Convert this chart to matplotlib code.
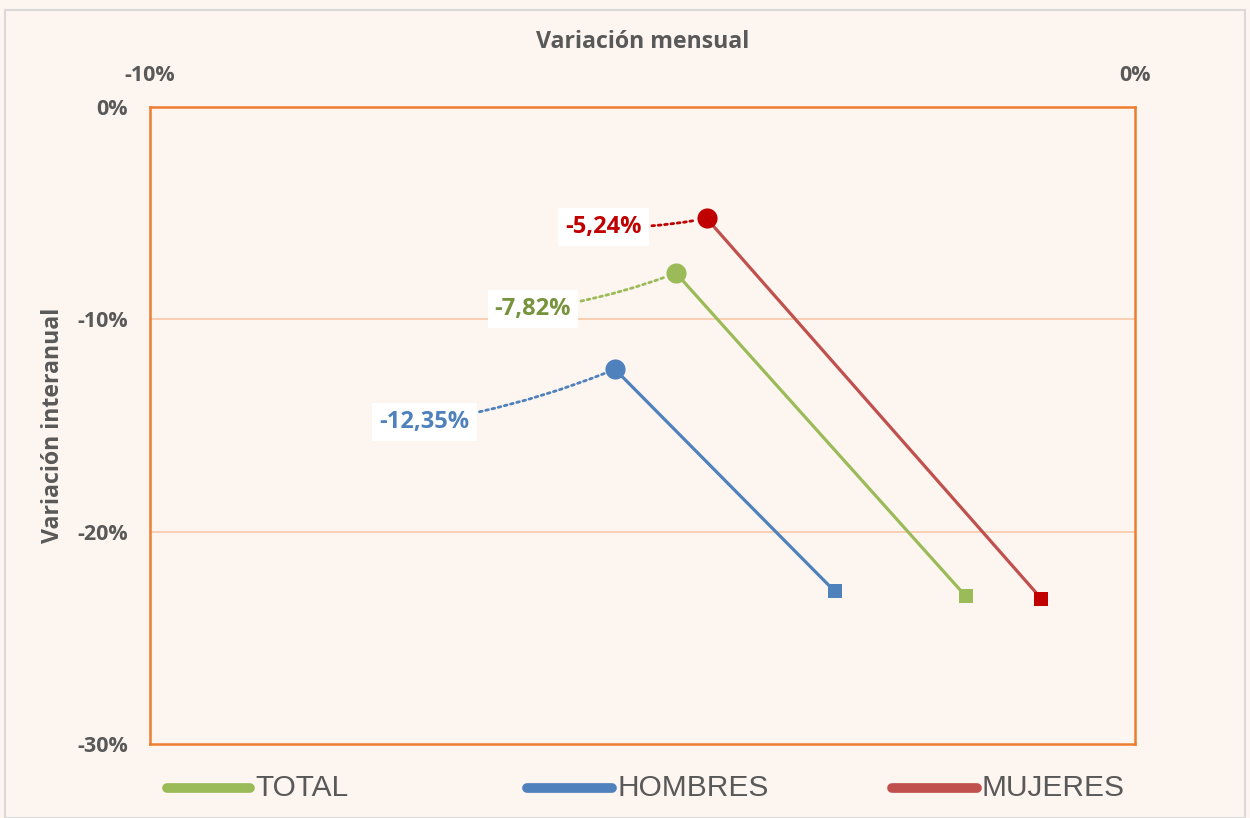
import matplotlib
matplotlib.use("Agg")
import matplotlib.pyplot as plt
from matplotlib.lines import Line2D
from matplotlib.patches import Rectangle

plt.rcParams['font.family'] = ['Open Sans', 'DejaVu Sans']

# ---- data ----
series = ["TOTAL", "HOMBRES", "MUJERES"]
mensual_actual = [-4.66, -5.28, -4.35]       # circle points (x, %)
interanual_actual = [-7.82, -12.35, -5.24]   # circle points (y, %)
mensual_anterior = [-1.72, -3.05, -0.95]     # square points (x, %)
interanual_anterior = [-23.03, -22.80, -23.16]
labels = ["-7,82%", "-12,35%", "-5,24%"]
x_ticks = [-10, 0]
x_ticklabels = ["-10%", "0%"]
y_ticks = [0, -10, -20, -30]
y_ticklabels = ["0%", "-10%", "-20%", "-30%"]

# ---- styles ----
line_colors = ["#9BBB59", "#4F81BD", "#C0504D"]
marker_colors = ["#9BBB59", "#4F81BD", "#C00000"]
text_colors = ["#77933C", "#4F81BD", "#C00000"]
label_offsets = [(-103, -26), (-137, -38), (-74, -6)]
bg = "#FDF5F0"
grey = "#595959"

fig = plt.figure(figsize=(12.5, 8.18), dpi=100, facecolor=bg)
fig.patches.append(Rectangle((5/1250, 0), 1 - 10/1250, 1 - 10/818, transform=fig.transFigure,
                             fill=False, edgecolor="#D9D9D9", linewidth=1.5, zorder=0))
ax = fig.add_axes([150/1250, 1 - 744/818, 985/1250, 637/818])
ax.set_facecolor(bg)
ax.set_xlim(-10, 0)
ax.set_ylim(-30, 0)

for sp in ax.spines.values():
    sp.set_color("#ED7D31")
    sp.set_linewidth(1.8)

for yv in [-10, -20]:
    ax.axhline(yv, color="#F8CBAD", linewidth=1.3, zorder=1)

ax.xaxis.tick_top()
ax.xaxis.set_label_position("top")
ax.set_xticks(x_ticks)
ax.set_xticklabels(x_ticklabels)
ax.set_yticks(y_ticks)
ax.set_yticklabels(y_ticklabels)
ax.tick_params(axis="both", length=0, labelsize=15.5, labelcolor=grey)
ax.tick_params(axis="x", pad=15)
ax.tick_params(axis="y", pad=16)
for t in ax.get_xticklabels() + ax.get_yticklabels():
    t.set_fontweight("bold")
ax.set_xlabel("Variación mensual", fontsize=16.7, fontweight="bold", color=grey, labelpad=12)
ax.set_ylabel("Variación interanual", fontsize=16.7, fontweight="bold", color=grey, labelpad=9)

for i in range(len(series)):
    ax.plot([mensual_actual[i], mensual_anterior[i]], [interanual_actual[i], interanual_anterior[i]],
            color=line_colors[i], linewidth=2.3, zorder=3, solid_capstyle="butt")
    ax.plot(mensual_actual[i], interanual_actual[i], marker="o", markersize=14.5,
            color=marker_colors[i], markeredgewidth=0, zorder=4)
    ax.plot(mensual_anterior[i], interanual_anterior[i], marker="s", markersize=10,
            color=marker_colors[i], markeredgewidth=0, zorder=4)
    ax.annotate(labels[i], xy=(mensual_actual[i], interanual_actual[i]),
                xytext=label_offsets[i], textcoords="offset points",
                ha="center", va="center", fontsize=17, fontweight="bold", color=text_colors[i],
                bbox=dict(boxstyle="square,pad=0.3", facecolor="white", edgecolor="none"),
                arrowprops=dict(arrowstyle="-", linestyle=(0, (1, 1.3)), color=marker_colors[i],
                                linewidth=2, shrinkA=2, shrinkB=8,
                                connectionstyle="arc3,rad=0.06"),
                zorder=5)

# ---- legend ----
leg_pos = [(167, 250), (527, 612), (892, 977)]
for i, name in enumerate(series):
    x0, x1 = leg_pos[i]
    fig.lines.append(Line2D([x0/1250, x1/1250], [1 - 788/818]*2, transform=fig.transFigure,
                            color=line_colors[i], linewidth=7, solid_capstyle="round"))
    fig.text((x1 + 5)/1250, 1 - 788/818, name, fontsize=21.5, color=grey,
             family=['Liberation Sans Narrow', 'Liberation Sans', 'DejaVu Sans'],
             ha="left", va="center")

fig.savefig("out.png", dpi=100, facecolor=bg)
